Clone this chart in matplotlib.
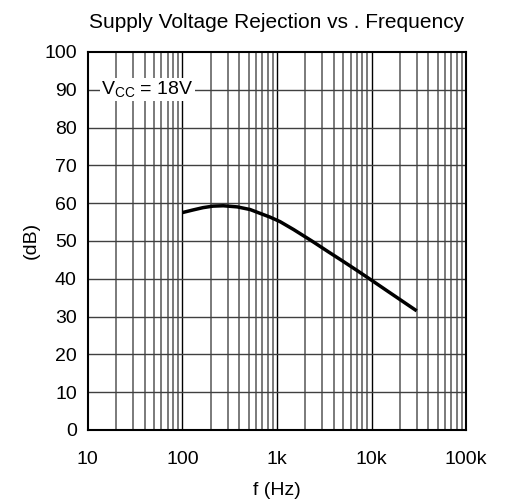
import matplotlib
matplotlib.use('Agg')
import matplotlib.pyplot as plt
from matplotlib.ticker import FixedLocator, FixedFormatter, NullFormatter

plt.rcParams['font.family'] = ['Liberation Sans', 'DejaVu Sans']

# curve
freq_hz = [100, 130, 165, 210, 270, 380, 520, 661, 843, 1077, 1500, 2330,
           3500, 5000, 7000, 10000, 15000, 30000]
psrr_db = [57.5, 58.2, 58.8, 59.2, 59.3, 59.0, 58.3, 57.3, 56.3, 55.1, 53.0, 50.0,
           47.1, 44.6, 42.2, 39.6, 36.6, 31.5]

x_ticks = [10, 100, 1000, 10000, 100000]
x_labels = ['10', '100', '1k', '10k', '100k']
y_ticks = list(range(0, 101, 10))

fig = plt.figure(figsize=(5.05, 5.04), dpi=100)
ax = fig.add_axes([0.174, 0.147, 0.749, 0.750])

ax.set_xscale('log')
ax.set_xlim(10, 100000)
ax.set_ylim(0, 100)

# grid: decades + minor lines
minor = [m * 10 ** d for d in range(1, 5) for m in range(2, 10)]
for v in minor:
    ax.axvline(v, color='#707070', lw=1.3, zorder=1)
for v in x_ticks[1:-1]:
    ax.axvline(v, color='black', lw=1.0, zorder=1)
for v in y_ticks[1:-1]:
    ax.axhline(v, color='#404040', lw=1.0, zorder=1)

ax.plot(freq_hz, psrr_db, color='black', lw=2.5, zorder=3,
        solid_joinstyle='round', solid_capstyle='butt')

ax.xaxis.set_major_locator(FixedLocator(x_ticks))
ax.xaxis.set_major_formatter(FixedFormatter(x_labels))
ax.xaxis.set_minor_formatter(NullFormatter())
ax.set_yticks(y_ticks)
ax.tick_params(which='both', length=0, labelsize=14, pad=8)
ax.tick_params(axis='x', pad=15)
for s in ax.spines.values():
    s.set_linewidth(1.5)

ax.text(13.8, 90, r'V$_{\mathregular{CC}}$ = 18V', fontsize=14, va='center',
        ha='left', bbox=dict(facecolor='white', edgecolor='none', pad=1), zorder=4)

ax.set_title('Supply Voltage Rejection vs . Frequency', fontsize=15, pad=17)
ax.set_xlabel('f (Hz)', fontsize=14, labelpad=10)
ax.set_ylabel('(dB)', fontsize=14, labelpad=3)

fig.savefig('out.png', dpi=100)
